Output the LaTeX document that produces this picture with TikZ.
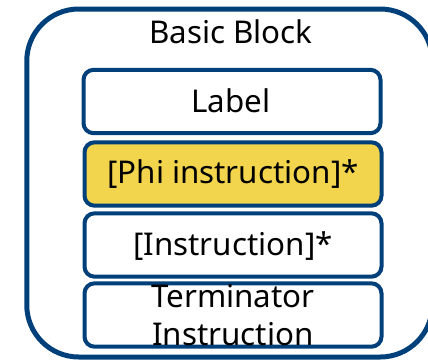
\documentclass[tikz,border=0pt]{standalone}
\usepackage{fontspec}
\setmainfont{Noto Sans}
\definecolor{bbblue}{HTML}{00407A}
\definecolor{phiyellow}{HTML}{F2D54C}
\tikzset{
  container/.style={draw=bbblue, line width=3.75pt, rounded corners=39pt,
    minimum width=304.1pt, minimum height=261pt, inner sep=0pt},
  part/.style={draw=bbblue, line width=3pt, rounded corners=7.5pt, fill=white,
    minimum width=222.75pt, minimum height=47.5pt, inner sep=0pt},
  phipart/.style={part, fill=phiyellow},
  txt/.style={font=\fontsize{23.5}{28.5}\selectfont, inner sep=0pt, anchor=base, align=center},
}
\begin{document}
\begin{tikzpicture}[x=0.75pt, y=-0.75pt]
  \useasboundingbox (0,0) rectangle (428,361);
  \clip (0,0) rectangle (428,361);
  % outer basic block
  \node[container] (bb) at (229.5,183) {};
  % parts of the block
  \node[part]    (label) at (232,101.5) {};
  \node[phipart] (phi)   at (233,174) {};
  \node[part]    (inst)  at (233,245) {};
  \node[part]    (term)  at (233,315) {};
  % texts
  \node[txt] (bbt)    at (231,43.3)  {Basic Block};
  \node[txt] (labelt) at (231,112)   {Label};
  \node[txt] (phit)   at (233,183.3) {[Phi instruction]*};
  \node[txt] (instt)  at (233,255)   {[Instruction]*};
  \node[txt] (termt1) at (233,307)   {Terminator};
  \node[txt] (termt2) at (233,345)   {Instruction};
\end{tikzpicture}
\end{document}
